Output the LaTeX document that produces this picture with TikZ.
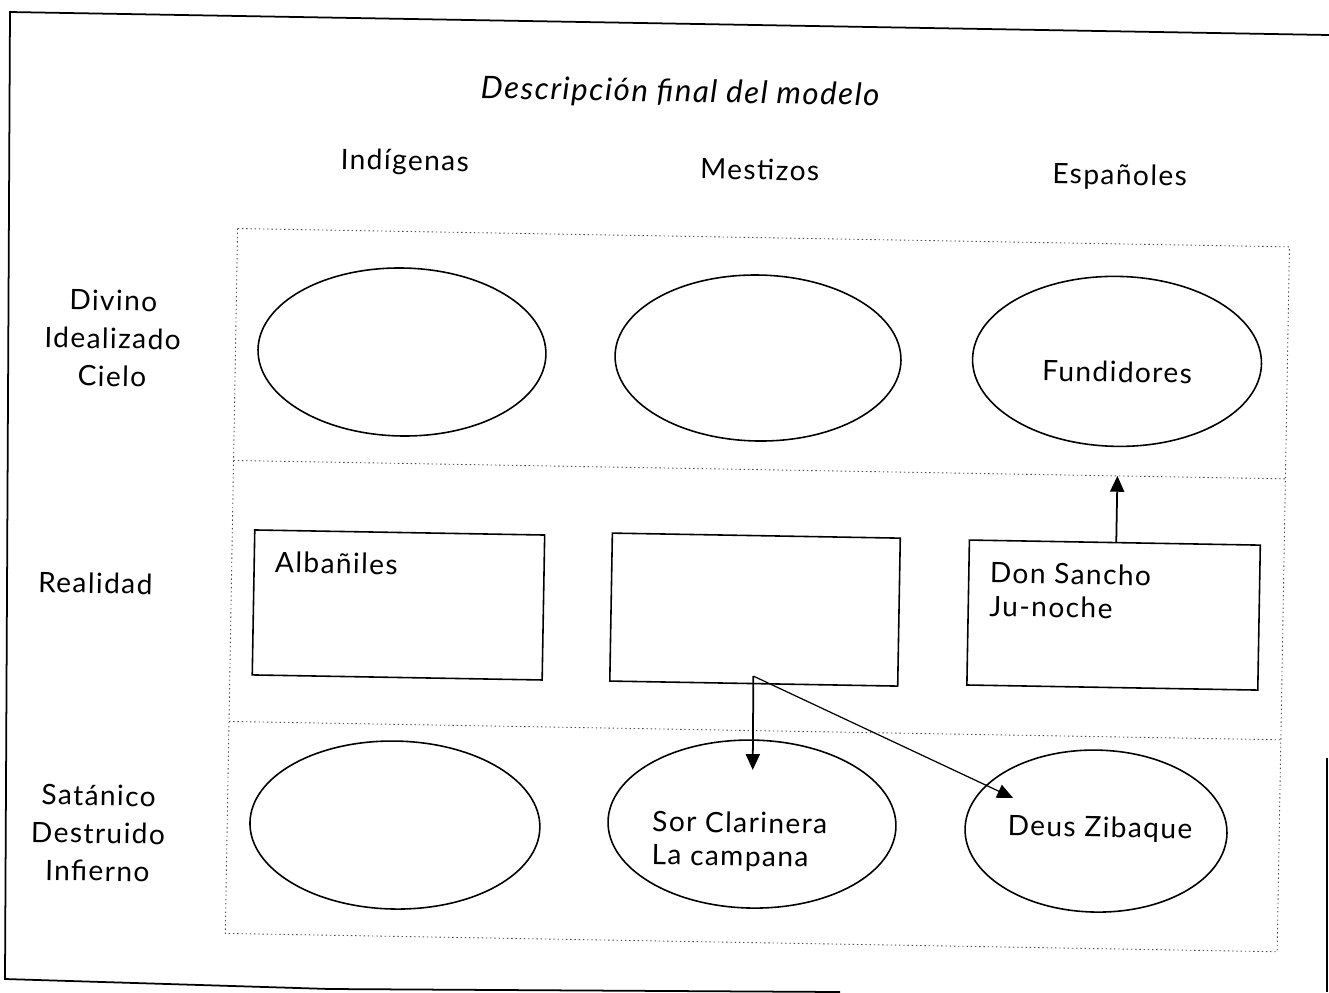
\documentclass[tikz,border=0pt]{standalone}
\usepackage{fontspec}
\setmainfont{Lato}[LetterSpace=5]
\usetikzlibrary{shapes.geometric,arrows.meta}

\begin{document}
\begin{tikzpicture}[x=0.02cm,y=-0.02cm,
  txt/.style={font=\fontsize{16}{18}\selectfont, inner sep=0pt},
  lbl/.style={txt, align=center},
  oval/.style={draw, ellipse, line width=0.9pt, inner sep=0pt},
  box/.style={draw, rectangle, line width=0.9pt, inner sep=0pt},
  grid/.style={black!70, line width=0.5pt, dash pattern=on 0.8pt off 1.6pt},
  arr/.style={line width=1pt, -{Triangle[length=9pt,width=8pt]}},
  thin arr/.style={line width=0.7pt, -{Triangle[length=9pt,width=8pt]}},
]
\useasboundingbox (0,0) rectangle (1329,992);

% page frame
\draw[line width=1pt] (1329,35) -- (10,12) -- (5,979) -- (330,989) -- (840,992);
\draw[line width=1pt] (1327,758) -- (1327,992);

\begin{scope}[rotate around={-1:(665,496)}, transform shape]
  % title and column headings
  \node[txt, font=\fontsize{17.7}{20}\selectfont\itshape] (title) at (673,93) {Descripción final del modelo};
  \node[txt] (h1) at (399,167) {Indígenas};
  \node[txt] (h2) at (754,168) {Mestizos};
  \node[txt] (h3) at (1114,169) {Españoles};

  % row headings
  \node[lbl, font=\fontsize{16}{21.5}\selectfont] (r1) at (110,348) {Divino\\Idealizado\\Cielo};
  \node[txt] (r2) at (97,593) {Realidad};
  \node[lbl, font=\fontsize{16}{21.5}\selectfont] (r3) at (104,843) {Satánico\\Destruido\\Infierno};

  % dotted grid
  \draw[grid] (233,236) rectangle (1285,941);
  \draw[grid] (233,468) -- (1285,468);
  \draw[grid] (233,729) -- (1285,729);

  % upper row
  \node[oval, minimum width=5.76cm, minimum height=3.36cm] (e11) at (399.5,356.6) {};
  \node[oval, minimum width=5.72cm, minimum height=3.32cm] (e12) at (755.6,356.4) {};
  \node[oval, minimum width=5.78cm, minimum height=3.40cm] (e13) at (1114.6,353.5) {};
  \node[txt] (fund) at (1114.8,364) {Fundidores};

  % middle row
  \node[box, minimum width=5.80cm, minimum height=2.90cm] (b1) at (400.4,609.6) {};
  \node[box, minimum width=5.76cm, minimum height=2.96cm] (b2) at (757,608) {};
  \node[box, minimum width=5.82cm, minimum height=2.90cm] (b3) at (1115.6,607.2) {};
  \node[txt, anchor=west] (alb) at (276,569) {Albañiles};
  \node[txt, anchor=west, align=left, font=\fontsize{16}{19}\selectfont] (don) at (991,583.6) {Don Sancho\\Ju-noche};

  % lower row
  \node[oval, minimum width=5.80cm, minimum height=3.36cm] (e31) at (400.7,829.7) {};
  \node[oval, minimum width=5.76cm, minimum height=3.36cm] (e32) at (757.7,822.5) {};
  \node[oval, minimum width=5.24cm, minimum height=3.24cm] (e33) at (1101.8,823.5) {};
  \node[txt, anchor=west, align=left, font=\fontsize{16}{19}\selectfont] (sor) at (657.7,840) {Sor Clarinera\\La campana};
  \node[txt] (deus) at (1105.8,821.4) {Deus Zibaque};

  % connectors
  \coordinate (split) at (756.5,674.5);
  \coordinate (tipA) at (757.5,768.3);
  \coordinate (tipB) at (1018.3,791.8);
  \coordinate (tipC) at (1117,468);
  \draw[arr] (split) -- (tipA);
  \draw[thin arr] (split) -- (tipB);
  \draw[arr] (b3.north -| tipC) -- (tipC);
\end{scope}
\end{tikzpicture}
\end{document}
